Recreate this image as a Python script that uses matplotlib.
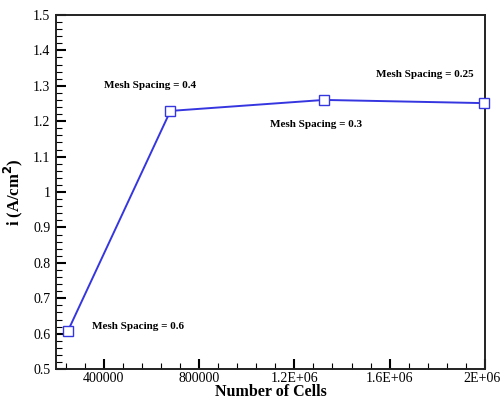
import matplotlib
matplotlib.use("Agg")
import matplotlib.pyplot as plt
from matplotlib.ticker import MultipleLocator, FuncFormatter
from matplotlib.transforms import ScaledTranslation

# data
cells = [250000, 680000, 1325000, 1995000]
current = [0.608, 1.229, 1.260, 1.251]
spacing_labels = ["Mesh Spacing = 0.6", "Mesh Spacing = 0.4",
                  "Mesh Spacing = 0.3", "Mesh Spacing = 0.25"]
label_pos = [(352000, 0.620), (402000, 1.301), (1097000, 1.192), (1543000, 1.332)]
xtick_vals = [400000, 800000, 1200000, 1600000, 2000000]
xtick_labels = ["400000", "800000", "1.2E+06", "1.6E+06", "2E+06"]

plt.rcParams['font.family'] = ['Liberation Serif', 'DejaVu Serif']

fig = plt.figure(figsize=(5.02, 4.03), dpi=100)
ax = fig.add_axes([0.1116, 0.084, 0.8545, 0.879])

ax.plot(cells, current, color='#3636e0', linewidth=1.4, marker='s',
        markersize=7.5, markerfacecolor='white', markeredgecolor='#3636e0',
        markeredgewidth=1.0, clip_on=False, zorder=3)

for txt, (x, y) in zip(spacing_labels, label_pos):
    ax.text(x, y, txt, fontsize=8, fontweight='bold', va='center', ha='left')

ax.set_xlim(200000, 2000000)
ax.set_ylim(0.5, 1.5)
ax.set_xticks(xtick_vals)
ax.set_xticklabels(xtick_labels)
ax.xaxis.set_minor_locator(MultipleLocator(80000))
ax.yaxis.set_major_locator(MultipleLocator(0.1))
ax.yaxis.set_minor_locator(MultipleLocator(0.02))
ax.yaxis.set_major_formatter(FuncFormatter(lambda v, p: '%g' % round(v, 2)))

ax.tick_params(which='both', direction='in', top=False, right=False,
               labelsize=10, pad=4, color='black')
ax.tick_params(axis='x', pad=2)
ax.tick_params(which='major', length=7, width=1.5)
ax.tick_params(which='minor', length=4, width=0.8)
for sp in ax.spines.values():
    sp.set_linewidth(1.4)
    sp.set_color('#222222')

# keep the last tick label inside the figure
last = ax.get_xticklabels()[-1]
last.set_transform(last.get_transform() + ScaledTranslation(-3 / 100, 0, fig.dpi_scale_trans))

ax.set_xlabel('Number of Cells', fontsize=11.5, fontweight='bold', labelpad=-1)
ax.set_ylabel('i (A/cm$^\\mathbf{2}$)', fontsize=12, fontweight='bold', labelpad=6)

fig.savefig('out.png', dpi=100)
